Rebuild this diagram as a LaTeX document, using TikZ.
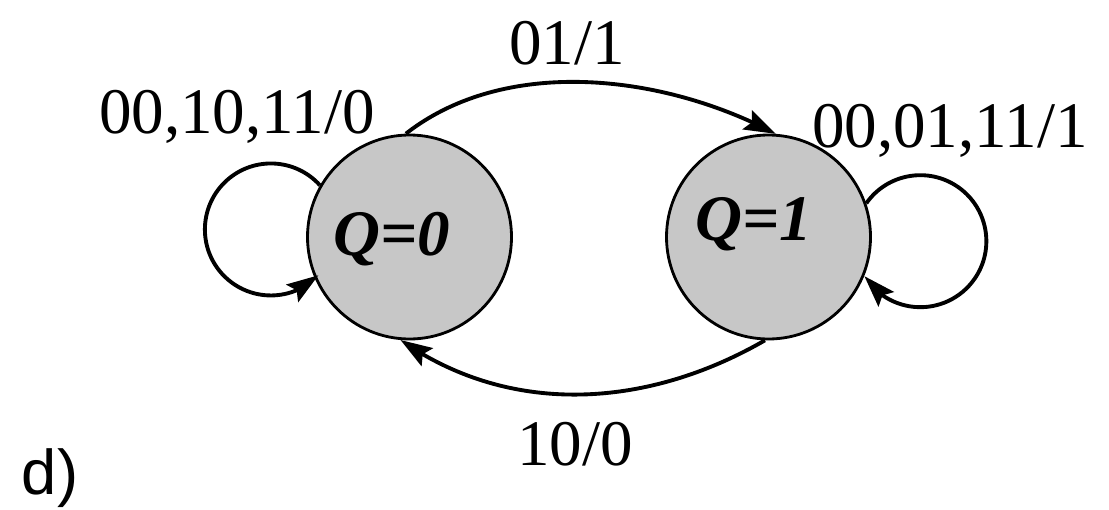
\documentclass[tikz,border=0pt]{standalone}
\usepackage{fontspec}
\setmainfont{Liberation Serif}
\newfontfamily\panelfont{Liberation Sans}
\usepackage{xcolor}
\usepackage{tikz}
\usetikzlibrary{arrows.meta, bending}

\begin{document}
\begin{tikzpicture}[
    statebox/.style={draw, circle, line width=1.6pt, fill=black!22, minimum size=4.08cm, inner sep=0pt},
    statetxt/.style={anchor=base, font=\fontsize{37}{40}\selectfont\bfseries\itshape},
    translbl/.style={anchor=base, font=\fontsize{37}{40}\selectfont},
    trans/.style={-{Stealth[length=18pt, width=12pt, inset=3pt, flex]}, line width=2.2pt}
]
\useasboundingbox (0,0) rectangle (22.18,10.18);

% ---- States ----
\node[statebox] (q0) at ( 8.19, 5.44) {};
\node[statebox] (q1) at (15.37, 5.44) {};
\node[statetxt] (q0txt) at ( 7.84, 5.08) {Q=0};
\node[statetxt] (q1txt) at (15.08, 5.38) {Q=1};

% ---- Self loops ----
\draw[trans] (q0.150)  arc[start angle=42,  end angle=316,  radius=1.32cm];
\draw[trans] (q1.19.5) arc[start angle=145, end angle=-148, radius=1.32cm];

% ---- Transitions between states ----
\draw[trans] (q0.92)  to[out=38,  in=152, looseness=0.88] (q1.86);   % Q=0 -> Q=1
\draw[trans] (q1.268) to[out=210, in=-35, looseness=0.95] (q0.265);  % Q=1 -> Q=0

% ---- Labels ----
\node[translbl] (l00) at ( 4.74, 7.52) {00,10,11/0};
\node[translbl] (l01) at (11.34, 8.88) {01/1};
\node[translbl] (l11) at (19.00, 7.24) {00,01,11/1};
\node[translbl] (l10) at (11.50, 0.88) {10/0};
\node[anchor=base, font=\panelfont\fontsize{36}{40}\selectfont] (panel) at (1.00, 0.30) {d)};

\end{tikzpicture}
\end{document}
